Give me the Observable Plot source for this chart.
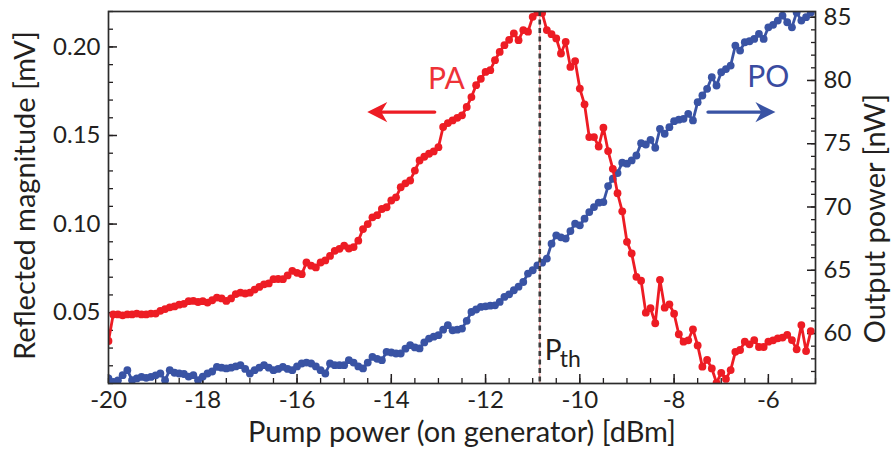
<!DOCTYPE html>
<html><head><meta charset="utf-8">
<script src="https://cdn.jsdelivr.net/npm/d3@7"></script>
<script src="https://cdn.jsdelivr.net/npm/@observablehq/plot@0.6"></script>
<style>
html,body{margin:0;padding:0;background:#fff;}
</style>
</head><body><div id="chart"></div>
<script>
// Pump power on generator [dBm]
const pumpPower = [
  -20.0,-19.9,-19.8,-19.7,-19.6,-19.5,-19.4,-19.3,-19.2,-19.1,
  -19.0,-18.9,-18.8,-18.7,-18.6,-18.5,-18.4,-18.3,-18.2,-18.1,
  -18.0,-17.9,-17.8,-17.7,-17.6,-17.5,-17.4,-17.3,-17.2,-17.1,
  -17.0,-16.9,-16.8,-16.7,-16.6,-16.5,-16.4,-16.3,-16.2,-16.1,
  -16.0,-15.9,-15.8,-15.7,-15.6,-15.5,-15.4,-15.3,-15.2,-15.1,
  -15.0,-14.9,-14.8,-14.7,-14.6,-14.5,-14.4,-14.3,-14.2,-14.1,
  -14.0,-13.9,-13.8,-13.7,-13.6,-13.5,-13.4,-13.3,-13.2,-13.1,
  -13.0,-12.9,-12.8,-12.7,-12.6,-12.5,-12.4,-12.3,-12.2,-12.1,
  -12.0,-11.9,-11.8,-11.7,-11.6,-11.5,-11.4,-11.3,-11.2,-11.1,
  -11.0,-10.9,-10.8,-10.7,-10.6,-10.5,-10.4,-10.3,-10.2,-10.1,
  -10.0,-9.9,-9.8,-9.7,-9.6,-9.5,-9.4,-9.3,-9.2,-9.1,
  -9.0,-8.9,-8.8,-8.7,-8.6,-8.5,-8.4,-8.3,-8.2,-8.1,
  -8.0,-7.9,-7.8,-7.7,-7.6,-7.5,-7.4,-7.3,-7.2,-7.1,
  -7.0,-6.9,-6.8,-6.7,-6.6,-6.5,-6.4,-6.3,-6.2,-6.1,
  -6.0,-5.9,-5.8,-5.7,-5.6,-5.5,-5.4,-5.3,-5.2,-5.1
];
// PA: reflected magnitude [mV] (left axis)
const reflectedPA = [
  0.034,0.049,0.049,0.0485,0.049,0.049,0.0495,0.049,0.049,0.0495,
  0.0495,0.051,0.052,0.053,0.0535,0.0545,0.055,0.0565,0.0566,0.056,
  0.0565,0.0557,0.057,0.0585,0.058,0.0566,0.058,0.0605,0.0613,0.0608,
  0.0613,0.063,0.0645,0.066,0.0665,0.0689,0.069,0.0689,0.071,0.0736,
  0.0725,0.0717,0.0783,0.0765,0.0755,0.0783,0.0795,0.082,0.0849,0.086,
  0.0878,0.0862,0.087,0.0906,0.0972,0.100,0.1038,0.105,0.1085,0.1095,
  0.1133,0.1151,0.1208,0.123,0.1246,0.1302,0.1359,0.138,0.1397,0.141,
  0.1434,0.1548,0.157,0.1585,0.160,0.1614,0.1661,0.1717,0.1784,0.182,
  0.1859,0.1869,0.1925,0.1972,0.201,0.204,0.2076,0.2038,0.2095,0.2086,
  0.217,0.2195,0.2192,0.2095,0.2072,0.2048,0.1963,0.2029,0.1887,0.192,
  0.1765,0.1676,0.1491,0.1491,0.1438,0.1544,0.1412,0.1312,0.1174,0.1072,
  0.090,0.0834,0.0702,0.068,0.050,0.0525,0.044,0.0685,0.0528,0.0547,
  0.0494,0.0378,0.0336,0.0344,0.0406,0.0315,0.0195,0.0233,0.0185,0.0104,
  0.016,0.0126,0.0176,0.0279,0.0289,0.0336,0.0321,0.0345,0.0306,0.0306,
  0.0336,0.0344,0.0355,0.0359,0.0374,0.0345,0.0293,0.043,0.0283,0.0396
];
// PO: output power [nW] (right axis)
const outputPO = [
  56.45,56.18,56.3,56.71,57.1,56.31,56.45,56.57,56.5,56.57,
  56.7,56.84,56.31,57.1,56.9,56.84,56.8,56.6,56.71,56.31,
  56.6,56.84,57.0,57.36,57.3,57.24,57.3,57.4,57.5,57.2,
  56.84,57.1,57.3,57.5,57.3,57.1,57.2,57.36,57.2,57.1,
  57.4,57.63,57.7,57.63,57.4,57.1,56.84,57.63,57.5,57.5,
  57.5,57.89,57.7,57.4,57.24,57.7,58.15,58.0,57.89,58.55,
  58.5,58.42,58.42,58.8,59.08,58.9,58.82,59.3,59.6,59.75,
  59.87,60.3,60.66,60.26,60.3,60.39,61.0,61.7,61.9,62.1,
  62.15,62.2,62.23,62.5,62.89,63.1,63.42,63.7,64.07,64.74,
  65.0,65.39,65.6,65.92,67.1,67.76,67.6,67.5,68.1,68.68,
  68.55,69.08,69.6,69.99,70.34,70.39,71.65,72.23,72.68,73.5,
  73.42,73.68,74.07,75.04,74.94,75.31,74.68,76.18,75.79,76.31,
  76.78,76.9,76.97,77.36,76.84,78.28,78.81,79.34,80.26,79.6,
  80.65,80.9,81.18,82.76,82.36,83.02,83.1,83.28,83.68,83.28,
  84.2,84.4,84.73,85.12,84.6,84.2,85.38,84.73,85.0,85.38
];
const xTicks = [-20, -18, -16, -14, -12, -10, -8, -6];
const leftTicks = [0.05, 0.10, 0.15, 0.20];
const rightTicks = [60, 65, 70, 75, 80, 85];
const thresholdPower = -10.85; // P_th

// axis scale settings
const X_DOMAIN = [-20, -5];
const Y_DOMAIN = [0.01, 0.22];
const PO_DOMAIN = [56.05, 85.45];
const poToY = d3.scaleLinear(PO_DOMAIN, Y_DOMAIN);

const xMinor = d3.range(-20, -4.99, 0.5);
const leftMinor = d3.range(1, 23).map(d => d / 100);
const rightMinor = d3.range(57, 86);

const FONT = "Lato, 'Open Sans', sans-serif";
const RED = "#ed1c24", BLUE = "#3953a4", INK = "#231f20";

const rows = pumpPower.map((x, i) => ({x, pa: reflectedPA[i], po: outputPO[i]}));

// annotations
const paLabel = [{x: -12.83, y: 0.1816, text: "PA"}];
const poLabel = [{x: -6.0, y: 0.183, text: "PO"}];
const paArrow = [{x1: -13.08, x2: -14.51, y: 0.1632}];
const poArrow = [{x1: -7.28, x2: -5.85, y: 0.1632}];
const pthLabel = [{x: thresholdPower, y: 0.0285}];

const stealth = {
  draw(ctx, size) {
    const s = Math.sqrt(size);
    ctx.moveTo(0.5 * s, 0);
    ctx.lineTo(-0.5 * s, -0.5 * s);
    ctx.lineTo(-0.2 * s, 0);
    ctx.lineTo(-0.5 * s, 0.5 * s);
    ctx.closePath();
  }
};

const chart = Plot.plot({
  width: 893, height: 454,
  marginLeft: 108, marginRight: 78, marginTop: 11, marginBottom: 71,
  style: {fontFamily: FONT, fontSize: "24px", color: INK, background: "white"},
  x: {domain: X_DOMAIN, axis: null},
  y: {domain: Y_DOMAIN, axis: null},
  marks: [
    // inward ticks
    Plot.axisX(xMinor, {anchor: "bottom", tickSize: 5, insetBottom: 5, fill: "none", label: null, stroke: INK, strokeWidth: 1.3}),
    Plot.axisX(xTicks, {anchor: "bottom", tickSize: 9, insetBottom: 9, fill: "none", label: null, stroke: INK, strokeWidth: 1.5}),
    Plot.axisY(leftMinor, {anchor: "left", tickSize: 5, insetLeft: 5, fill: "none", label: null, stroke: INK, strokeWidth: 1.3}),
    Plot.axisY(leftTicks, {anchor: "left", tickSize: 9, insetLeft: 9, fill: "none", label: null, stroke: INK, strokeWidth: 1.5}),
    Plot.axisY(rightMinor, {anchor: "right", y: d => poToY(d), tickSize: 5, insetRight: 5, fill: "none", label: null, stroke: INK, strokeWidth: 1.3}),
    Plot.axisY(rightTicks, {anchor: "right", y: d => poToY(d), tickSize: 9, insetRight: 9, fill: "none", label: null, stroke: INK, strokeWidth: 1.5}),
    // tick labels
    Plot.axisX(xTicks, {anchor: "bottom", tickSize: 0, tickPadding: 7, label: null, tickFormat: d => String(d), fill: INK}),
    Plot.axisY(leftTicks, {anchor: "left", tickSize: 0, tickPadding: 8, label: null, tickFormat: d3.format(".2f"), fill: INK}),
    Plot.axisY(rightTicks, {anchor: "right", y: d => poToY(d), tickSize: 0, tickPadding: 8, label: null, tickFormat: d => String(d), fill: INK}),
    // axis titles
    Plot.text(["Pump power (on generator) [dBm]"], {frameAnchor: "bottom", dy: 49, textAnchor: "middle", lineAnchor: "middle", fontSize: 29, fill: INK}),
    Plot.text(["Reflected magnitude [mV]"], {frameAnchor: "left", dx: -83, dy: -2, rotate: -90, textAnchor: "middle", lineAnchor: "middle", fontSize: 29, fill: INK}),
    Plot.text(["Output power [nW]"], {frameAnchor: "right", dx: 60, dy: 21, rotate: -90, textAnchor: "middle", lineAnchor: "middle", fontSize: 29, fill: INK}),
    // data
    Plot.line(rows, {x: "x", y: d => poToY(d.po), stroke: BLUE, strokeWidth: 2.8, clip: true}),
    Plot.dot(rows, {x: "x", y: d => poToY(d.po), fill: BLUE, r: 3.9, clip: true}),
    Plot.line(rows, {x: "x", y: "pa", stroke: RED, strokeWidth: 2.8, clip: true}),
    Plot.dot(rows, {x: "x", y: "pa", fill: RED, r: 3.9, clip: true}),
    // threshold line
    Plot.ruleX([thresholdPower], {stroke: "#f3a0a0", strokeWidth: 1.2}),
    Plot.ruleX([thresholdPower], {stroke: "#3c3c3c", strokeWidth: 2.6, strokeDasharray: "5,3.5"}),
    Plot.text(pthLabel, {x: "x", y: "y", text: () => "P", dx: 5, textAnchor: "start", fontSize: 28, fill: INK}),
    Plot.text(pthLabel, {x: "x", y: "y", text: () => "th", dx: 20, dy: 9, textAnchor: "start", fontSize: 23, fill: INK}),
    // PA / PO annotations
    Plot.text(paLabel, {x: "x", y: "y", text: "text", fontSize: 30, fill: "#ee3237"}),
    Plot.arrow(paArrow, {x1: "x1", x2: "x2", y1: "y", y2: "y", headLength: 0, insetEnd: 10, stroke: RED, strokeWidth: 3.4}),
    Plot.dot(paArrow, {x: "x2", y: "y", symbol: stealth, r: 11.3, rotate: 180, dx: 10, fill: RED}),
    Plot.text(poLabel, {x: "x", y: "y", text: "text", fontSize: 30, fill: "#3a4ba0"}),
    Plot.arrow(poArrow, {x1: "x1", x2: "x2", y1: "y", y2: "y", headLength: 0, insetEnd: 10, stroke: BLUE, strokeWidth: 3.4}),
    Plot.dot(poArrow, {x: "x2", y: "y", symbol: stealth, r: 11.3, rotate: 0, dx: -10, fill: BLUE}),
    Plot.frame({stroke: "#2b2b2b", strokeWidth: 1.7})
  ]
});
document.getElementById("chart").appendChild(chart);
</script>
</body></html>
